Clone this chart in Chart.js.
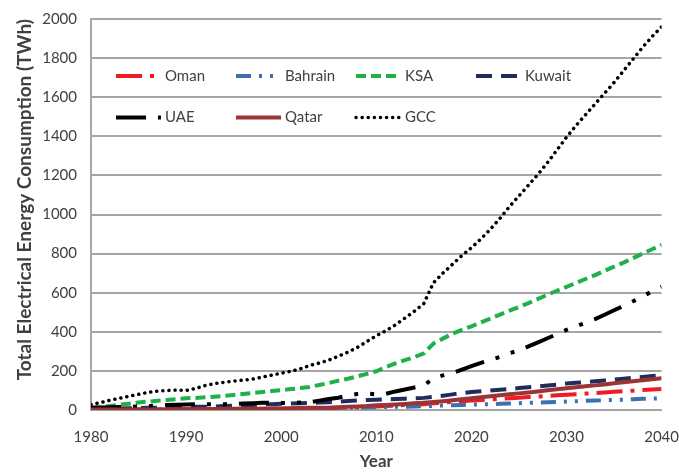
<!DOCTYPE html>
<html>
<head>
<meta charset="utf-8">
<script src="https://cdn.jsdelivr.net/npm/chart.js@4.4.1/dist/chart.umd.min.js"></script>
<style>
  html, body { margin: 0; padding: 0; background: #fff; }
  canvas { display: block; }
</style>
</head>
<body>
<canvas id="energy-chart" width="679" height="476"></canvas>
<script>
// Total electrical energy consumption (TWh), history + projection
const years = [
    1980, 1981, 1982, 1983, 1984, 1985, 1986, 1987, 1988, 1989,
    1990, 1991, 1992, 1993, 1994, 1995, 1996, 1997, 1998, 1999,
    2000, 2001, 2002, 2003, 2004, 2005, 2006, 2007, 2008, 2009,
    2010, 2011, 2012, 2013, 2014, 2015, 2016, 2017, 2018, 2019,
    2020, 2021, 2022, 2023, 2024, 2025, 2026, 2027, 2028, 2029,
    2030, 2031, 2032, 2033, 2034, 2035, 2036, 2037, 2038, 2039,
    2040,
];

const oman = [
    1, 1, 1, 1, 2, 2, 2, 2, 3, 3,
    3, 3, 4, 4, 4, 5, 5, 5, 6, 6,
    6, 7, 8, 8, 9, 10, 11, 13, 14, 16,
    18, 20, 22, 25, 27, 30, 34, 38, 41, 45,
    48, 51, 54, 57, 60, 63, 66, 69, 72, 75,
    78, 81, 84, 87, 90, 93, 96, 99, 102, 105,
    107,
];

const bahrain = [
    2, 2, 2, 2, 3, 3, 3, 3, 4, 4,
    4, 4, 5, 5, 5, 5, 6, 6, 6, 7,
    7, 7, 8, 8, 9, 10, 10, 11, 12, 13,
    14, 15, 16, 17, 18, 20, 21, 23, 24, 26,
    27, 29, 30, 32, 33, 35, 37, 38, 40, 41,
    43, 45, 47, 48, 50, 52, 53, 55, 57, 58,
    60,
];

const ksa = [
    10, 15, 20, 27, 32, 38, 43, 47, 51, 56,
    60, 62, 65, 68, 72, 77, 82, 87, 92, 97,
    102, 107, 112, 118, 128, 138, 150, 160, 172, 185,
    198, 220, 238, 255, 270, 290, 340, 365, 390, 410,
    428, 448, 468, 488, 508, 527, 547, 568, 590, 610,
    630, 650, 670, 690, 712, 733, 754, 777, 800, 822,
    845,
];

const kuwait = [
    5, 6, 7, 8, 9, 10, 11, 12, 13, 14,
    15, 16, 17, 18, 20, 22, 24, 26, 28, 30,
    32, 33, 35, 37, 38, 40, 43, 46, 49, 51,
    52, 54, 56, 58, 60, 62, 67, 73, 80, 86,
    92, 96, 100, 104, 108, 112, 116, 120, 125, 130,
    135, 139, 143, 147, 151, 155, 160, 165, 169, 174,
    178,
];

const uae = [
    12, 13, 14, 15, 16, 18, 20, 22, 25, 27,
    28, 29, 29, 30, 30, 31, 33, 35, 37, 37,
    36, 37, 38, 40, 48, 56, 63, 74, 82, 84,
    80, 83, 95, 105, 115, 125, 163, 177, 188, 206,
    225, 241, 256, 272, 290, 305, 325, 346, 367, 388,
    410, 428, 446, 465, 487, 510, 532, 556, 582, 606,
    630,
];

const qatar = [
    2, 2, 2, 2, 3, 3, 3, 3, 4, 4,
    4, 4, 5, 5, 5, 6, 6, 7, 7, 8,
    8, 9, 10, 11, 11, 12, 14, 16, 18, 20,
    24, 26, 28, 31, 34, 37, 41, 45, 50, 55,
    60, 65, 70, 75, 80, 85, 90, 95, 101, 106,
    111, 116, 121, 126, 131, 137, 142, 147, 152, 157,
    162,
];

const gcc = [
    28, 38, 50, 60, 70, 80, 90, 97, 100, 102,
    100, 110, 125, 135, 142, 148, 153, 158, 168, 178,
    188, 198, 210, 228, 240, 255, 275, 295, 320, 350,
    380, 405, 435, 470, 505, 545, 650, 700, 745, 790,
    830, 875, 925, 980, 1040, 1095, 1150, 1205, 1265, 1330,
    1395, 1455, 1510, 1565, 1620, 1675, 1735, 1795, 1855, 1910,
    1960,
];

const yTicks = { min: 0, max: 2000, step: 200 };
const xTicks = { min: 1980, max: 2040, step: 10 };

const FONT = "Lato, 'Open Sans', sans-serif";
const TEXT = '#404040';
const GRID = '#a6a6a6';

function toPoints(values) {
    return years.map((x, i) => ({ x, y: values[i] }));
}

const datasets = [
    { label: 'Oman', data: toPoints(oman), borderColor: '#ee1c25', borderWidth: 4, borderDash: [26, 8, 4, 8] },
    { label: 'Bahrain', data: toPoints(bahrain), borderColor: '#3e6fb0', borderWidth: 4, borderDash: [15, 8, 3, 8, 3, 8] },
    { label: 'KSA', data: toPoints(ksa), borderColor: '#1fb04b', borderWidth: 4, borderDash: [10, 5] },
    { label: 'Kuwait', data: toPoints(kuwait), borderColor: '#1f2d5e', borderWidth: 4, borderDash: [16, 9] },
    { label: 'UAE', data: toPoints(uae), borderColor: '#000000', borderWidth: 4, borderDash: [30, 12, 4, 12, 4, 12] },
    { label: 'Qatar', data: toPoints(qatar), borderColor: '#9b3535', borderWidth: 4, borderDash: [] },
    { label: 'GCC', data: toPoints(gcc), borderColor: '#000000', borderWidth: 3.5, borderDash: [0.1, 6], borderCapStyle: 'round' },
];
// later series sit on top of earlier ones
datasets.forEach((ds, i) => { ds.order = datasets.length - i; ds.fill = false; });

// legend laid out as a 4-column grid inside the plot area
const gridLegend = {
    id: 'gridLegend',
    afterDraw(chart) {
        const { ctx, chartArea } = chart;
        ctx.save();
        chart.data.datasets.forEach((ds, i) => {
            const col = i % 4;
            const row = Math.floor(i / 4);
            const x = chartArea.left + 25 + col * 120;
            const y = chartArea.top + 57 + row * 41.5;

            ctx.beginPath();
            ctx.strokeStyle = ds.borderColor;
            ctx.lineWidth = ds.borderWidth;
            ctx.lineCap = ds.borderCapStyle || 'butt';
            ctx.setLineDash(ds.borderDash || []);
            ctx.moveTo(x, y);
            ctx.lineTo(x + 45, y);
            ctx.stroke();

            ctx.setLineDash([]);
            ctx.fillStyle = TEXT;
            ctx.font = '15px ' + FONT;
            ctx.textAlign = 'left';
            ctx.textBaseline = 'middle';
            ctx.fillText(ds.label, x + 49, y);
        });
        ctx.restore();
    },
};

const ctx = document.getElementById('energy-chart').getContext('2d');
const energyChart = new Chart(ctx, {
    type: 'line',
    data: { datasets },
    plugins: [gridLegend],
    options: {
        responsive: false,
        animation: false,
        layout: { padding: { top: 19, left: 0, right: 0, bottom: 0 } },
        elements: {
            point: { radius: 0 },
            line: { tension: 0 },
        },
        plugins: {
            legend: { display: false },
            tooltip: { enabled: false },
        },
        scales: {
            x: {
                type: 'linear',
                min: xTicks.min,
                max: xTicks.max,
                ticks: {
                    stepSize: xTicks.step,
                    padding: 0,
                    color: TEXT,
                    font: { family: FONT, size: 15 },
                    callback: (v) => String(v),
                },
                // invisible tick marks keep the labels clear of the axis
                grid: { color: 'transparent', tickColor: 'transparent', drawTicks: true, tickLength: 18 },
                border: { display: true, color: GRID, width: 2 },
                title: {
                    display: true,
                    text: 'Year',
                    color: TEXT,
                    font: { family: FONT, size: 17, weight: 'bold' },
                    padding: { top: 0, bottom: 4 },
                },
                afterFit(scale) { scale.height = 66; },
            },
            y: {
                min: yTicks.min,
                max: yTicks.max,
                ticks: {
                    stepSize: yTicks.step,
                    padding: 0,
                    color: TEXT,
                    font: { family: FONT, size: 15 },
                    callback: (v) => String(v),
                },
                grid: { color: GRID, lineWidth: 2, tickColor: 'transparent', drawTicks: true, tickLength: 14 },
                border: { display: true, color: GRID, width: 2 },
                title: {
                    display: true,
                    text: 'Total Electrical Energy Consumption (TWh)',
                    align: 'end',
                    color: TEXT,
                    font: { family: FONT, size: 19, weight: 'bold' },
                    padding: { top: 13, bottom: 0 },
                },
                afterFit(scale) { scale.width = 91; },
            },
        },
    },
});
</script>
</body>
</html>
